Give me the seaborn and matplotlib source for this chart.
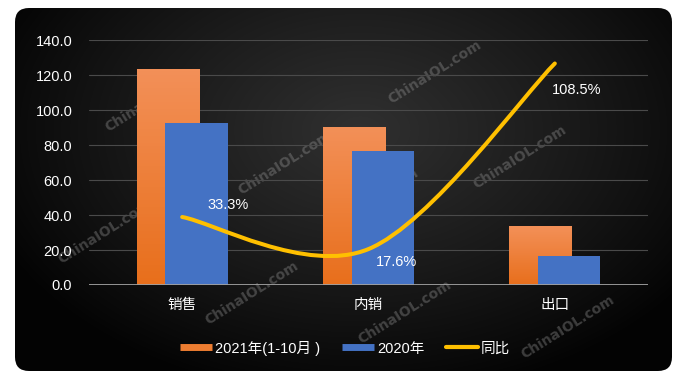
import numpy as np
import seaborn as sns
import matplotlib.pyplot as plt
from matplotlib.colors import LinearSegmentedColormap
from matplotlib.patches import FancyBboxPatch, PathPatch
from matplotlib.path import Path
from matplotlib.lines import Line2D

# --- data ---
categories = ['销售', '内销', '出口']
sales_2021 = [123.5, 90.3, 33.6]
sales_2020 = [92.6, 76.6, 16.3]
growth = [33.3, 17.6, 108.5]
growth_labels = ['33.3%', '17.6%', '108.5%']
series_names = ['2021年(1-10月 )', '2020年', '同比']
yticks = [0, 20, 40, 60, 80, 100, 120, 140]

sns.set_theme(style='dark')
plt.rcParams['font.family'] = ['Liberation Sans', 'Noto Sans CJK SC']
plt.rcParams['axes.unicode_minus'] = False

W, H = 687, 383
fig = plt.figure(figsize=(W / 100, H / 100), dpi=100)
fig.patch.set_facecolor('white')

# --- dark rounded panel with a soft glow in the middle ---
bg = fig.add_axes([0, 0, 1, 1])
bg.set_xlim(0, W)
bg.set_ylim(H, 0)
bg.axis('off')
panel = FancyBboxPatch((29, 22), 629, 335, boxstyle='round,pad=14', fc='none', ec='none')
bg.add_patch(panel)
yy, xx = np.mgrid[0:H, 0:W]
r = np.sqrt(((xx - 360) / 400) ** 2 + ((yy - 130) / 270) ** 2)
glow = np.clip(1 - r, 0, 1) ** 0.9
bg_cmap = LinearSegmentedColormap.from_list('bg', ['#030303', '#303030'])
img = bg.imshow(glow, cmap=bg_cmap, extent=(0, W, H, 0), vmin=0, vmax=1, aspect='auto')
img.set_clip_path(panel)

# watermarks (behind the bars)
for cx, cy in [(152, 100), (105, 232), (285, 163), (435, 72), (520, 157),
               (252, 293), (405, 312), (568, 327), (372, 200)]:
    bg.text(cx, cy, 'ChinaIOL.com', rotation=32, rotation_mode='anchor', ha='center', va='center',
            color='#a0a0a0', alpha=0.35, fontsize=10, fontweight='bold', family='DejaVu Sans')

# --- bars ---
ax = fig.add_axes([89 / W, 1 - 285 / H, (648 - 89) / W, 245 / H])
ax.set_facecolor('none')
sns.barplot(x=categories, y=sales_2021, ax=ax, color='#ED7D31', width=1 / 3, saturation=1, linewidth=0)
sns.barplot(x=categories, y=sales_2020, ax=ax, color='#4472C4', width=1 / 3, saturation=1, linewidth=0)

n = len(categories)
orange_bars = ax.patches[:n]
blue_bars = ax.patches[n:2 * n]
shift = 0.077
grad = np.linspace(0, 1, 64).reshape(-1, 1)
orange_cmap = LinearSegmentedColormap.from_list('or', ['#F39058', '#E86F1C'])
for p in orange_bars:
    p.set_x(p.get_x() - shift)
    p.set_zorder(1)
    p.set_edgecolor('none')
    x0, h = p.get_x(), p.get_height()
    im = ax.imshow(grad, cmap=orange_cmap, extent=(x0, x0 + p.get_width(), 0, h),
                   aspect='auto', zorder=1.1)
    im.set_clip_path(p)
for p in blue_bars:
    p.set_x(p.get_x() + shift)
    p.set_zorder(2)
    p.set_edgecolor('none')

ax.set_xlim(-0.5, n - 0.5)
ax.set_ylim(0, 140)
ax.set_yticks(yticks)
ax.set_yticklabels([f'{v:.1f}' for v in yticks])
ax.yaxis.grid(True, color='#4a4a4a', lw=0.8)
ax.set_axisbelow(True)
ax.axhline(0, color='#a0a0a0', lw=1.3, zorder=3)
for s in ax.spines.values():
    s.set_visible(False)
ax.tick_params(axis='y', colors='white', labelsize=10.5, pad=12, length=0)
ax.tick_params(axis='x', colors='white', labelsize=10.5, pad=9, length=0)
ax.set_xlabel('')
ax.set_ylabel('')

# --- smoothed growth line on a hidden secondary axis ---
ax2 = ax.twinx()
ax2.set_ylim(0, 120)
ax2.axis('off')
pts = np.column_stack([np.arange(n), growth]).astype(float)
verts = [pts[0]]
codes = [Path.MOVETO]
for i in range(n - 1):
    prev = pts[max(i - 1, 0)]
    nxt = pts[min(i + 2, n - 1)]
    c1 = pts[i] + (pts[i + 1] - prev) / 6
    c2 = pts[i + 1] - (nxt - pts[i]) / 6
    verts += [c1, c2, pts[i + 1]]
    codes += [Path.CURVE4] * 3
ax2.add_patch(PathPatch(Path(verts, codes), fc='none', ec='#FFC000', lw=2.9,
                        capstyle='round', joinstyle='round', zorder=4))

label_offsets = [(18, 9), (5, -9), (-2, -19)]
for i, (g, lab) in enumerate(zip(growth, growth_labels)):
    ax2.annotate(lab, (i, g), xytext=label_offsets[i], textcoords='offset points',
                 color='white', fontsize=10.5, ha='left', va='center', zorder=5)

# --- legend ---
handles = [Line2D([], [], color='#ED7D31', lw=5, solid_capstyle='butt'),
           Line2D([], [], color='#4472C4', lw=5, solid_capstyle='butt'),
           Line2D([], [], color='#FFC000', lw=3, solid_capstyle='round')]
fig.legend(handles, series_names, loc='center', bbox_to_anchor=(345 / W, 1 - 348 / H), ncol=3,
           frameon=False, labelcolor='white', fontsize=10.5, handlelength=2.2,
           handletextpad=0.2, columnspacing=1.5)

fig.savefig('out.png', dpi=100, facecolor='white')
